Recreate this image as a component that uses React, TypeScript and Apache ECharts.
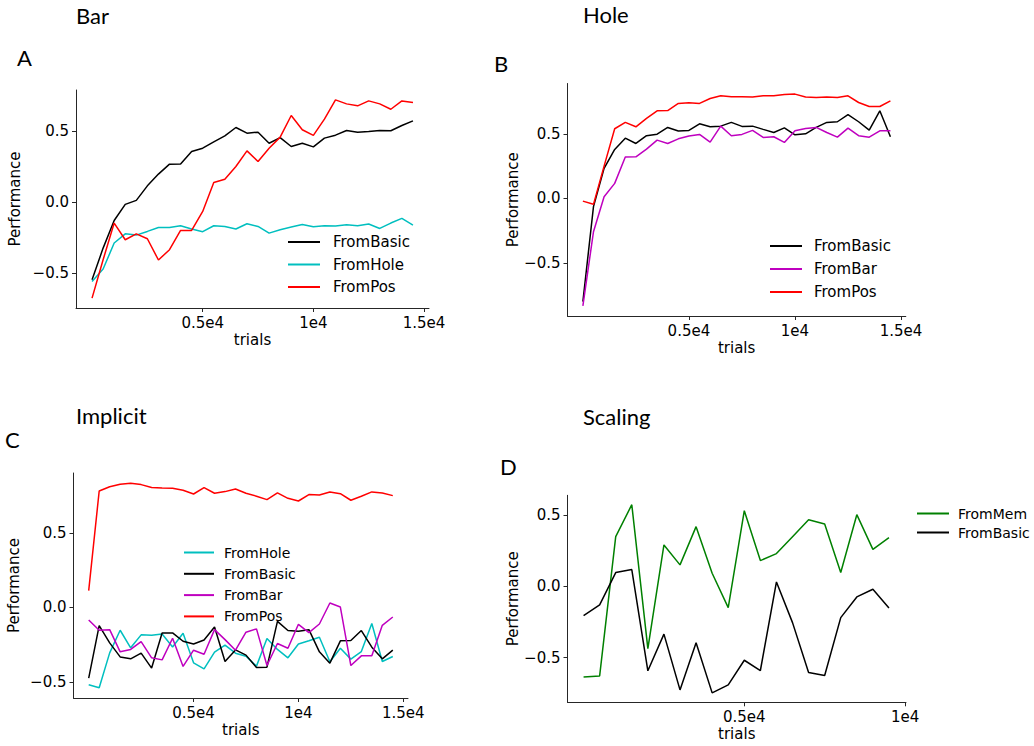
import React, { useEffect, useRef } from "react";
import * as echarts from "echarts";

const TRIALS_30 = [0, 500, 1000, 1500, 2000, 2500, 3000, 3500, 4000, 4500, 5000, 5500, 6000, 6500, 7000, 7500, 8000, 8500, 9000, 9500, 10000, 10500, 11000, 11500, 12000, 12500, 13000, 13500, 14000, 14500];
const TRIALS_20 = [0, 500, 1000, 1500, 2000, 2500, 3000, 3500, 4000, 4500, 5000, 5500, 6000, 6500, 7000, 7500, 8000, 8500, 9000, 9500];

// Panel A: Bar
const A_BASIC = [-0.548, -0.325, -0.13, -0.016, 0.012, 0.115, 0.198, 0.268, 0.27, 0.358, 0.381, 0.426, 0.468, 0.527, 0.487, 0.494, 0.416, 0.456, 0.393, 0.416, 0.39, 0.452, 0.473, 0.506, 0.494, 0.499, 0.506, 0.504, 0.541, 0.574];
const A_HOLE = [-0.56, -0.473, -0.289, -0.224, -0.233, -0.207, -0.179, -0.179, -0.167, -0.19, -0.209, -0.167, -0.172, -0.19, -0.153, -0.172, -0.219, -0.195, -0.176, -0.158, -0.174, -0.167, -0.169, -0.16, -0.167, -0.155, -0.186, -0.148, -0.115, -0.162];
const A_POS = [-0.678, -0.407, -0.148, -0.266, -0.224, -0.259, -0.409, -0.336, -0.2, -0.2, -0.066, 0.139, 0.162, 0.252, 0.362, 0.287, 0.381, 0.459, 0.612, 0.511, 0.471, 0.586, 0.722, 0.694, 0.68, 0.715, 0.694, 0.656, 0.715, 0.704];

// Panel B: Hole
const B_BASIC = [-0.799, -0.064, 0.232, 0.379, 0.466, 0.425, 0.485, 0.497, 0.549, 0.521, 0.526, 0.577, 0.554, 0.559, 0.588, 0.557, 0.559, 0.534, 0.51, 0.546, 0.492, 0.5, 0.549, 0.588, 0.593, 0.649, 0.593, 0.528, 0.678, 0.477];
const B_BAR = [-0.832, -0.258, 0.013, 0.116, 0.32, 0.322, 0.381, 0.451, 0.425, 0.461, 0.482, 0.495, 0.436, 0.559, 0.485, 0.495, 0.526, 0.472, 0.477, 0.433, 0.523, 0.541, 0.549, 0.51, 0.474, 0.544, 0.485, 0.474, 0.523, 0.523];
const B_POS = [-0.021, -0.046, 0.25, 0.539, 0.588, 0.554, 0.619, 0.678, 0.68, 0.735, 0.74, 0.735, 0.773, 0.794, 0.786, 0.786, 0.784, 0.794, 0.794, 0.804, 0.807, 0.784, 0.781, 0.784, 0.781, 0.794, 0.742, 0.711, 0.711, 0.755];

// Panel C: Implicit
const C_HOLE = [-0.52, -0.54, -0.306, -0.154, -0.272, -0.185, -0.188, -0.179, -0.266, -0.174, -0.373, -0.413, -0.301, -0.254, -0.308, -0.328, -0.395, -0.21, -0.283, -0.339, -0.246, -0.225, -0.201, -0.366, -0.275, -0.348, -0.297, -0.109, -0.364, -0.33];
const C_BASIC = [-0.475, -0.123, -0.239, -0.333, -0.346, -0.308, -0.408, -0.172, -0.172, -0.228, -0.246, -0.219, -0.132, -0.364, -0.286, -0.321, -0.404, -0.402, -0.094, -0.156, -0.161, -0.15, -0.299, -0.375, -0.225, -0.223, -0.156, -0.268, -0.346, -0.288];
const C_BAR = [-0.085, -0.154, -0.15, -0.299, -0.283, -0.23, -0.339, -0.353, -0.208, -0.397, -0.288, -0.315, -0.15, -0.217, -0.288, -0.167, -0.145, -0.391, -0.243, -0.275, -0.114, -0.17, -0.112, 0.029, 0.002, -0.391, -0.326, -0.326, -0.121, -0.065];
const C_POS = [0.112, 0.781, 0.81, 0.826, 0.833, 0.824, 0.804, 0.801, 0.799, 0.786, 0.761, 0.804, 0.766, 0.777, 0.795, 0.766, 0.746, 0.723, 0.768, 0.732, 0.714, 0.757, 0.754, 0.775, 0.763, 0.719, 0.746, 0.775, 0.768, 0.75];

// Panel D: Scaling
const D_MEM = [-0.636, -0.629, 0.348, 0.572, -0.437, 0.29, 0.15, 0.418, 0.091, -0.15, 0.53, 0.18, 0.229, 0.348, 0.467, 0.437, 0.096, 0.502, 0.259, 0.341];
const D_BASIC = [-0.206, -0.131, 0.096, 0.117, -0.593, -0.336, -0.727, -0.397, -0.748, -0.692, -0.519, -0.591, 0.03, -0.255, -0.605, -0.626, -0.22, -0.075, -0.021, -0.152];

const X_TICKS_15 = [5000, 10000, 15000];
const X_TICKS_10 = [5000, 10000];
const Y_TICKS = [-0.5, 0, 0.5];
const X_TICK_LABELS: Record<number, string> = { 5000: "0.5e4", 10000: "1e4", 15000: "1.5e4" };

const COLORS: Record<string, string> = {
  FromBasic: "#000000",
  FromHole: "#00bfbf",
  FromBar: "#bf00bf",
  FromPos: "#ff0000",
  FromMem: "#008000",
};

const TICK_FONT = "DejaVu Sans";
const SPINE = "#262626";

function yLabel(v: number) {
  if (v === 0) return "0.0";
  if (v < 0) return "\u2212" + Math.abs(v).toFixed(1);
  return v.toFixed(1);
}

function makeX(idx: number, min: number, max: number, ticks: number[]) {
  return {
    type: "value",
    gridIndex: idx,
    min,
    max,
    name: "trials",
    nameLocation: "middle",
    nameGap: 24,
    nameTextStyle: { fontFamily: TICK_FONT, fontSize: 15, color: "#000" },
    axisLine: { show: true, onZero: false, lineStyle: { color: SPINE, width: 1 } },
    axisTick: { show: true, inside: false, length: 4, lineStyle: { color: SPINE }, customValues: ticks },
    axisLabel: {
      customValues: ticks,
      margin: 7,
      fontFamily: TICK_FONT,
      fontSize: 15,
      color: "#000",
      formatter: (v: number) => X_TICK_LABELS[v] ?? "",
    },
    splitLine: { show: false },
  };
}

function makeY(idx: number, min: number, max: number, gap: number) {
  return {
    type: "value",
    gridIndex: idx,
    min,
    max,
    name: "Performance",
    nameLocation: "middle",
    nameRotate: 90,
    nameGap: gap,
    nameTextStyle: { fontFamily: TICK_FONT, fontSize: 15, color: "#000" },
    axisLine: { show: true, onZero: false, lineStyle: { color: SPINE, width: 1 } },
    axisTick: { show: true, inside: false, length: 4, lineStyle: { color: SPINE }, customValues: Y_TICKS },
    axisLabel: {
      customValues: Y_TICKS,
      margin: 7,
      fontFamily: TICK_FONT,
      fontSize: 15,
      color: "#000",
      formatter: (v: number) => yLabel(v),
    },
    splitLine: { show: false },
  };
}

function line(name: string, idx: number, xs: number[], ys: number[]) {
  return {
    type: "line",
    name,
    xAxisIndex: idx,
    yAxisIndex: idx,
    data: ys.map((y, i) => [xs[i], y]),
    showSymbol: false,
    symbol: "none",
    color: COLORS[name],
    lineStyle: { color: COLORS[name], width: 1.5 },
    emphasis: { disabled: true },
  };
}

function legend(names: string[], left: number, top: number, fontSize: number, gap: number, pad: number, w: number) {
  return {
    data: names,
    orient: "vertical",
    left,
    top,
    icon: "rect",
    itemWidth: w,
    itemHeight: 2,
    itemGap: gap,
    selectedMode: false,
    padding: 0,
    textStyle: { fontFamily: TICK_FONT, fontSize, color: "#000", lineHeight: fontSize + 1, padding: [0, 0, 0, pad] },
  };
}

function title(text: string, x: number, y: number) {
  return {
    type: "text",
    x,
    y,
    style: { text, fontFamily: "Lato", fontSize: 22, fill: "#000", verticalAlign: "middle", align: "left" },
  };
}

export default function App() {
  const ref = useRef<HTMLDivElement>(null);
  useEffect(() => {
    if (!ref.current) return;
    const chart = echarts.init(ref.current, null, { renderer: "svg" });
    const option = {
      animation: false,
      backgroundColor: "#ffffff",
      grid: [
        { left: 76, top: 90, width: 353, height: 218 },
        { left: 567.5, top: 83.5, width: 338.3, height: 232.5 },
        { left: 73.5, top: 473, width: 334.5, height: 225 },
        { left: 567.5, top: 495.3, width: 338.5, height: 207 },
      ],
      xAxis: [
        makeX(0, -725, 15225, X_TICKS_15),
        makeX(1, -725, 15225, X_TICKS_15),
        makeX(2, -725, 15225, X_TICKS_15),
        makeX(3, -500, 10030, X_TICKS_10),
      ],
      yAxis: [
        makeY(0, -0.748, 0.792, 54),
        makeY(1, -0.91, 0.889, 47),
        makeY(2, -0.609, 0.902, 52),
        makeY(3, -0.814, 0.638, 47),
      ],
      legend: [
        legend(["FromBasic", "FromHole", "FromPos"], 288, 234, 15, 6.5, 8, 32),
        legend(["FromBasic", "FromBar", "FromPos"], 770, 238, 15, 7, 7, 32),
        legend(["FromHole", "FromBasic", "FromBar", "FromPos"], 184, 545, 14, 6.3, 5, 30),
        legend(["FromMem", "FromBasic"], 917, 506, 14, 4, 4, 32),
      ],
      series: [
        line("FromBasic", 0, TRIALS_30, A_BASIC),
        line("FromHole", 0, TRIALS_30, A_HOLE),
        line("FromPos", 0, TRIALS_30, A_POS),
        line("FromBasic", 1, TRIALS_30, B_BASIC),
        line("FromBar", 1, TRIALS_30, B_BAR),
        line("FromPos", 1, TRIALS_30, B_POS),
        line("FromHole", 2, TRIALS_30, C_HOLE),
        line("FromBasic", 2, TRIALS_30, C_BASIC),
        line("FromBar", 2, TRIALS_30, C_BAR),
        line("FromPos", 2, TRIALS_30, C_POS),
        line("FromMem", 3, TRIALS_20, D_MEM),
        line("FromBasic", 3, TRIALS_20, D_BASIC),
      ],
      graphic: [
        title("Bar", 76, 15),
        title("A", 17, 57),
        title("Hole", 583, 14),
        title("B", 494, 63),
        title("Implicit", 76, 415),
        title("C", 5, 439),
        title("Scaling", 583, 416),
        title("D", 500, 466),
      ],
    };
    chart.setOption(option as any);
    return () => chart.dispose();
  }, []);
  return (
    <div
      ref={ref}
      style={{ position: "absolute", left: 0, top: 0, width: 1034, height: 746, background: "#fff" }}
    />
  );
}
